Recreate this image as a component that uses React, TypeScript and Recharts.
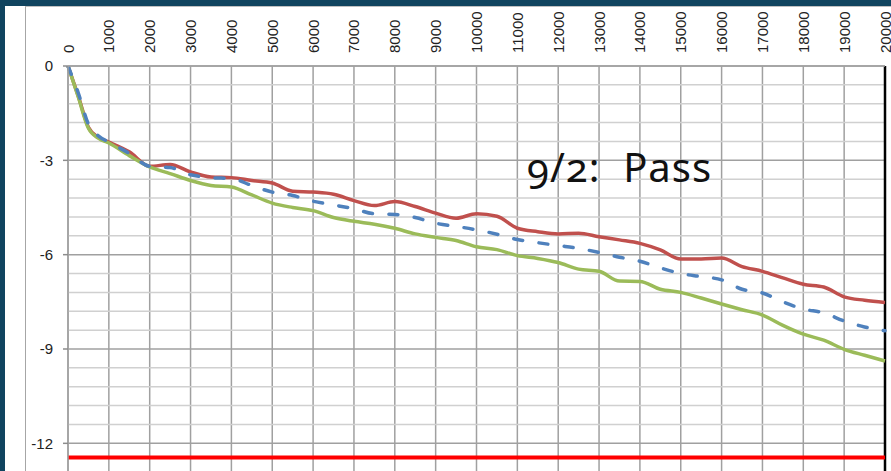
import { CartesianGrid, Line, LineChart, ReferenceLine, XAxis, YAxis } from "recharts";

// ── Data ──────────────────────────────────────────────────────────────────────
const X_VALUES = [
  0, 250, 500, 750, 1000, 1500, 2000, 2500, 3000, 3500, 4000, 4500, 5000, 5500,
  6000, 6500, 7000, 7500, 8000, 8500, 9000, 9500, 10000, 10500, 11000, 11500,
  12000, 12500, 13000, 13500, 14000, 14500, 15000, 15500, 16000, 16500, 17000,
  17500, 18000, 18500, 19000, 19500, 20000,
];
const UPPER = [
  0, -0.95, -1.95, -2.28, -2.42, -2.73, -3.19, -3.13, -3.37, -3.53, -3.55, -3.64,
  -3.72, -3.98, -4.01, -4.08, -4.28, -4.44, -4.31, -4.47, -4.68, -4.84, -4.7,
  -4.78, -5.16, -5.27, -5.34, -5.32, -5.43, -5.53, -5.64, -5.85, -6.14, -6.14,
  -6.11, -6.38, -6.53, -6.74, -6.94, -7.03, -7.34, -7.45, -7.52,
];
const NOMINAL = [
  0, -0.85, -1.85, -2.23, -2.42, -2.78, -3.19, -3.23, -3.46, -3.55, -3.58, -3.8,
  -4.01, -4.12, -4.3, -4.42, -4.54, -4.7, -4.72, -4.82, -5.0, -5.1, -5.21, -5.35,
  -5.52, -5.62, -5.71, -5.8, -5.93, -6.08, -6.21, -6.42, -6.6, -6.7, -6.8, -7.1,
  -7.22, -7.5, -7.73, -7.85, -8.11, -8.3, -8.42,
];
const LOWER = [
  0, -0.98, -1.98, -2.3, -2.45, -2.85, -3.21, -3.42, -3.64, -3.8, -3.85, -4.1,
  -4.36, -4.5, -4.6, -4.82, -4.94, -5.03, -5.16, -5.34, -5.45, -5.55, -5.75,
  -5.84, -6.03, -6.12, -6.25, -6.46, -6.53, -6.84, -6.85, -7.1, -7.2, -7.38,
  -7.57, -7.75, -7.92, -8.25, -8.53, -8.72, -9.01, -9.2, -9.38,
];
const X_TICKS = [
  0, 1000, 2000, 3000, 4000, 5000, 6000, 7000, 8000, 9000, 10000, 11000, 12000,
  13000, 14000, 15000, 16000, 17000, 18000, 19000, 20000,
];
const Y_TICKS = [0, -3, -6, -9, -12];
const Y_MINOR = [
  -0.6, -1.2, -1.8, -2.4, -3.6, -4.2, -4.8, -5.4, -6.6, -7.2, -7.8, -8.4, -9.6,
  -10.2, -10.8, -11.4,
];
const LIMIT = -12.45;

const data = X_VALUES.map((x, i) => ({
  x,
  upper: UPPER[i],
  nominal: NOMINAL[i],
  lower: LOWER[i],
}));

// ── Theme ─────────────────────────────────────────────────────────────────────
const FONT = "'Liberation Sans', Arial, sans-serif";
const GRID = "#a0a0a0";
const MINOR = "#d0d0d0";
const LABEL = "#222";

function XTick({ x, y, payload }: any) {
  return (
    <text
      x={x}
      y={y}
      transform={`rotate(-90 ${x} ${y})`}
      textAnchor="start"
      dominantBaseline="central"
      fill={LABEL}
      fontSize={15}
      fontFamily={FONT}
    >
      {payload.value}
    </text>
  );
}

export default function App() {
  return (
    <div
      style={{
        position: "fixed",
        left: 0,
        top: 0,
        width: 891,
        height: 471,
        background: "#10445f",
        overflow: "hidden",
      }}
    >
      <div
        style={{
          position: "absolute",
          left: 5,
          top: 6,
          width: 886,
          height: 465,
          background: "#fff",
        }}
      />
      <div
        style={{
          position: "absolute",
          left: 25,
          top: 6,
          width: 866,
          height: 465,
          borderLeft: "1px solid #a6a6a6",
          borderTop: "1px solid #c0c0c0",
        }}
      />
      <div style={{ position: "absolute", left: 0, top: 0 }}>
        <LineChart
          width={891}
          height={471}
          data={data}
          margin={{ top: 0, right: 6, bottom: 0, left: 0 }}
        >
          <CartesianGrid stroke={GRID} strokeWidth={1.5} vertical horizontal={false} />
          {Y_MINOR.map((v) => (
            <ReferenceLine key={v} y={v} stroke={MINOR} strokeWidth={1.5} />
          ))}
          {Y_TICKS.map((v) => (
            <ReferenceLine key={`m${v}`} y={v} stroke={GRID} strokeWidth={1.5} />
          ))}
          <XAxis
            dataKey="x"
            type="number"
            orientation="top"
            domain={[0, 20000]}
            ticks={X_TICKS}
            height={66}
            tickSize={0}
            tickMargin={13}
            tickLine={false}
            axisLine={{ stroke: GRID, strokeWidth: 1.5 }}
            tick={<XTick />}
            interval={0}
          />
          <YAxis
            type="number"
            domain={[-12.88, 0]}
            ticks={Y_TICKS}
            allowDataOverflow
            width={68}
            tickSize={5}
            tickMargin={10}
            tickLine={{ stroke: "#8c8c8c", strokeWidth: 1.5 }}
            axisLine={{ stroke: GRID, strokeWidth: 1.5 }}
            tick={{ fill: LABEL, fontSize: 15, fontFamily: FONT }}
            interval={0}
          />
          <ReferenceLine x={20000} stroke="#000" strokeWidth={2.5} />
          <ReferenceLine y={LIMIT} stroke="#ff0000" strokeWidth={4} />
          <Line
            type="monotone"
            dataKey="upper"
            stroke="#c0504d"
            strokeWidth={3.5}
            dot={false}
            isAnimationActive={false}
          />
          <Line
            type="monotone"
            dataKey="lower"
            stroke="#9bbb59"
            strokeWidth={3.5}
            dot={false}
            isAnimationActive={false}
          />
          <Line
            type="monotone"
            dataKey="nominal"
            stroke="#4f81bd"
            strokeWidth={3.5}
            strokeDasharray="9 16.5"
            strokeLinecap="round"
            dot={false}
            isAnimationActive={false}
          />
        </LineChart>
      </div>
      <div
        style={{
          position: "absolute",
          left: 527,
          top: 142,
          fontFamily: "'Noto Sans', sans-serif",
          fontVariantNumeric: "oldstyle-nums",
          fontSize: 40,
          letterSpacing: 1,
          lineHeight: "50px",
          color: "#111",
          whiteSpace: "pre",
        }}
      >
        9/2:  Pass
      </div>
    </div>
  );
}
